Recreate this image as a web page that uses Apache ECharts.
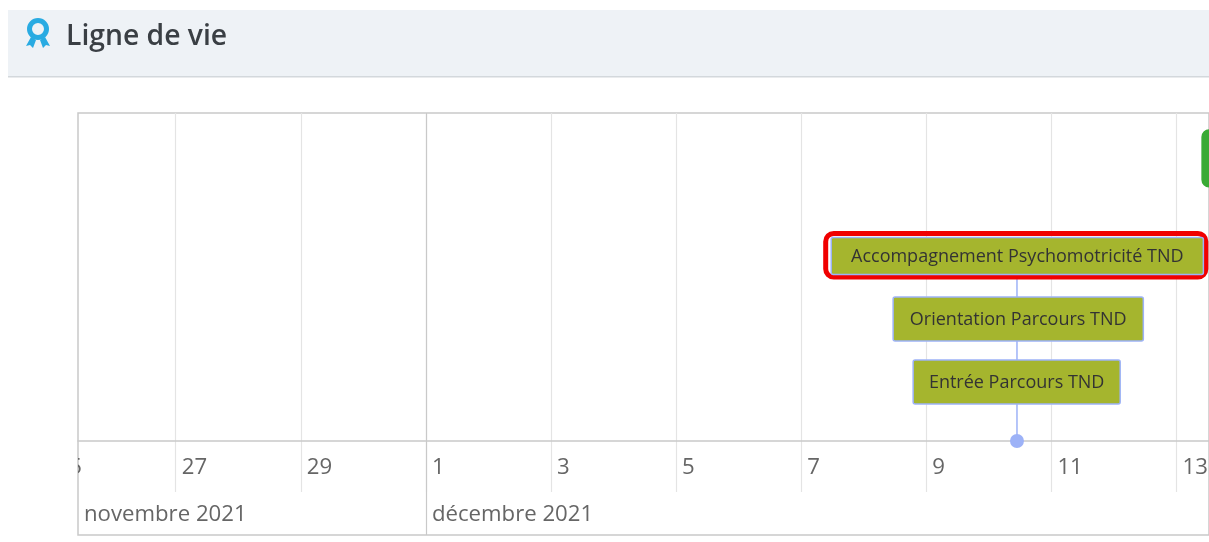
<!DOCTYPE html>
<html>
<head>
<meta charset="utf-8">
<title>Ligne de vie</title>
<script src="https://cdn.jsdelivr.net/npm/echarts@6/dist/echarts.min.js"></script>
<style>
    html, body { margin: 0; padding: 0; background: #fff; }
    #chart { width: 1209px; height: 542px; }
</style>
</head>
<body>
<div id="chart"></div>
<script>
(function () {
    'use strict';

    // days are counted from 1 Nov 2021 (31 = 1 Dec)
    var dayTicks = [25, 27, 29, 31, 33, 35, 37, 39, 41, 43];
    var dayLabels = ['25', '27', '29', '1', '3', '5', '7', '9', '11', '13'];
    var monthStarts = [25.438, 31];
    var monthLabels = ['novembre 2021', 'décembre 2021'];

    var boxNames = ['Entrée Parcours TND', 'Orientation Parcours TND', 'Accompagnement Psychomotricité TND', ''];
    var boxStart = [38.79, 38.47, 37.48, 43.41];
    var boxEnd = [42.10, 42.47, 43.43, 46];
    var boxLevel = [1, 2, 3, 4.55];
    var boxHeight = [0.7, 0.7, 0.59, 0.9];
    var boxKind = ['event', 'event', 'selected', 'other'];

    var stemDay = 40.45;
    var stemBase = 0.063;
    var stemTop = 3;

    var xMin = 25.438;
    var xMax = 43.52;
    var fontName = '"Open Sans", "Noto Sans", sans-serif';

    var chart = echarts.init(document.getElementById('chart'), null, { renderer: 'canvas' });

    function xAxisFor(gridIndex, values, color, showLine) {
        return {
            type: 'value',
            gridIndex: gridIndex,
            min: xMin,
            max: xMax,
            axisLine: { show: showLine, onZero: false, lineStyle: { color: '#c9c9c9', width: 1.5 } },
            axisTick: { show: false, customValues: values },
            axisLabel: { show: false },
            splitLine: { show: true, lineStyle: { color: color, width: 1.2 } }
        };
    }

    function yAxisFor(gridIndex, min, max) {
        return {
            type: 'value',
            gridIndex: gridIndex,
            min: min,
            max: max,
            axisLine: { show: false },
            axisTick: { show: false },
            axisLabel: { show: false },
            splitLine: { show: false }
        };
    }

    // clipped text so the "25" gets cut at the left border like the original
    function bandLabel(labels, dx, dy) {
        return function (params, api) {
            var pos = api.coord([api.value(0), 0.5]);
            return {
                type: 'text',
                x: pos[0] + dx,
                y: pos[1] + dy,
                style: {
                    text: labels[params.dataIndex],
                    fill: '#666666',
                    font: '22.2px ' + fontName,
                    textVerticalAlign: 'middle'
                }
            };
        };
    }

    function renderBox(params, api) {
        var i = params.dataIndex;
        var kind = boxKind[i];
        var topLeft = api.coord([api.value(0), api.value(2) + boxHeight[i] / 2]);
        var bottomRight = api.coord([api.value(1), api.value(2) - boxHeight[i] / 2]);
        var w = bottomRight[0] - topLeft[0];
        var h = bottomRight[1] - topLeft[1];
        var children = [];
        if (kind === 'selected') {
            children.push({
                type: 'rect',
                shape: { x: topLeft[0] - 5.5, y: topLeft[1] - 4, width: w + 8, height: h + 6.5, r: 8 },
                style: { fill: 'none', stroke: '#f00000', lineWidth: 5 }
            });
        }
        children.push({
            type: 'rect',
            shape: { x: topLeft[0], y: topLeft[1], width: w, height: h, r: kind === 'other' ? 7 : 2 },
            style: {
                fill: kind === 'other' ? '#3aaa35' : '#a5b52e',
                stroke: kind === 'other' ? '#3aaa35' : '#9db2f7',
                lineWidth: 1.5
            }
        });
        children.push({
            type: 'text',
            x: topLeft[0] + w / 2,
            y: topLeft[1] + h / 2 + 1,
            style: {
                text: boxNames[i],
                fill: '#333333',
                font: '18px ' + fontName,
                textAlign: 'center',
                textVerticalAlign: 'middle'
            }
        });
        return { type: 'group', children: children };
    }

    function renderStem(params, api) {
        var from = api.coord([api.value(0), api.value(1)]);
        var to = api.coord([api.value(0), api.value(2)]);
        return {
            type: 'line',
            shape: { x1: from[0], y1: from[1], x2: to[0], y2: to[1] },
            style: { stroke: '#9db2f7', lineWidth: 1.5 }
        };
    }

    var boxData = boxNames.map(function (n, i) { return [boxStart[i], boxEnd[i], boxLevel[i]]; });
    var gridTicks = dayTicks.slice(1);

    chart.setOption({
        animation: false,
        backgroundColor: '#ffffff',
        graphic: [
            { type: 'rect', z: 0, shape: { x: 8, y: 10, width: 1201, height: 67 }, style: { fill: '#eef2f6' } },
            { type: 'rect', z: 0, shape: { x: 8, y: 76, width: 1201, height: 1.5 }, style: { fill: '#d3d8dc' } },
            { type: 'circle', z: 1, shape: { cx: 38, cy: 29, r: 8.5 }, style: { fill: 'none', stroke: '#29abe2', lineWidth: 5 } },
            { type: 'polygon', z: 1, shape: { points: [[31, 37], [36, 40], [33, 48], [30, 45], [26, 46]] }, style: { fill: '#29abe2' } },
            { type: 'polygon', z: 1, shape: { points: [[45, 37], [40, 40], [43, 48], [46, 45], [50, 46]] }, style: { fill: '#29abe2' } },
            {
                type: 'text', z: 1, x: 66, y: 36.5,
                style: { text: 'Ligne de vie', fill: '#3a3f44', font: '600 28.3px ' + fontName, textVerticalAlign: 'middle' }
            }
        ],
        grid: [
            { left: 78, right: 0, top: 113, height: 328 },
            { left: 78, right: 0, top: 441, height: 51 },
            { left: 78, right: 0, top: 492, height: 43 },
            { left: 78, right: 0, top: 113, height: 422, show: true, backgroundColor: 'transparent', borderColor: '#c9c9c9', borderWidth: 1.5 }
        ],
        xAxis: [
            xAxisFor(0, gridTicks, '#e4e4e4', true),
            xAxisFor(1, gridTicks, '#e4e4e4', false),
            xAxisFor(2, [], 'transparent', false),
            xAxisFor(3, monthStarts.slice(1), '#c9c9c9', false)
        ],
        yAxis: [
            yAxisFor(0, stemBase, 5.27),
            yAxisFor(1, 0, 1),
            yAxisFor(2, 0, 1),
            yAxisFor(3, 0, 1)
        ],
        series: [
            {
                type: 'custom', name: 'tige', xAxisIndex: 0, yAxisIndex: 0, clip: false, z: 3,
                renderItem: renderStem,
                encode: { x: 0, y: [1, 2] },
                data: [[stemDay, stemBase, stemTop]]
            },
            {
                type: 'custom', name: 'evenements', xAxisIndex: 0, yAxisIndex: 0, clip: false, z: 4,
                renderItem: renderBox,
                encode: { x: [0, 1], y: 2 },
                data: boxData
            },
            {
                type: 'scatter', name: 'date', xAxisIndex: 0, yAxisIndex: 0, clip: false, z: 5,
                symbolSize: 14,
                itemStyle: { color: '#9db2f7', opacity: 1 },
                data: [[stemDay, stemBase]]
            },
            {
                type: 'custom', name: 'jours', xAxisIndex: 1, yAxisIndex: 1, clip: true, z: 3,
                renderItem: bandLabel(dayLabels, 6, 1.5),
                encode: { x: 0 },
                data: dayTicks.map(function (d) { return [d]; })
            },
            {
                type: 'custom', name: 'mois', xAxisIndex: 2, yAxisIndex: 2, clip: true, z: 3,
                renderItem: bandLabel(monthLabels, 6, 1.5),
                encode: { x: 0 },
                data: monthStarts.map(function (d) { return [d]; })
            }
        ]
    });
})();
</script>
</body>
</html>
